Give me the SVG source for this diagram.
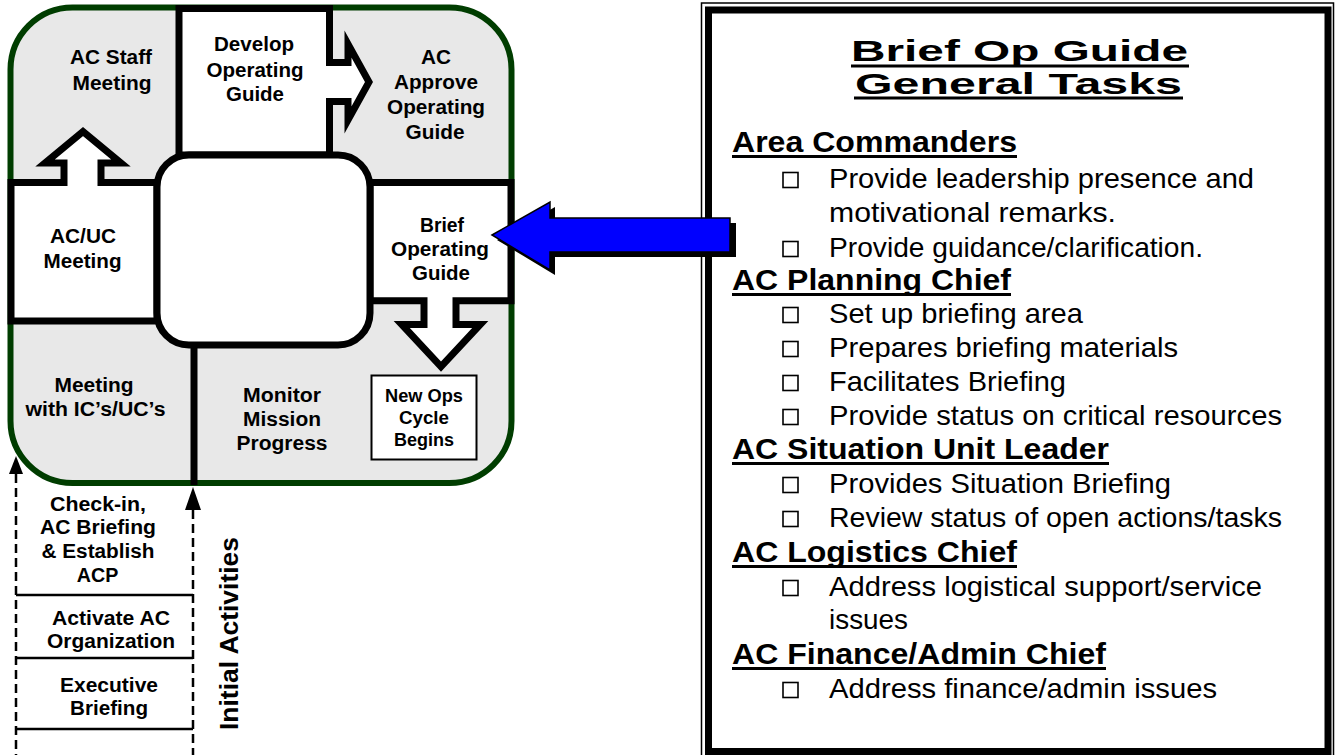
<svg xmlns="http://www.w3.org/2000/svg" width="1335" height="755" viewBox="0 0 1335 755">
<defs>
<style>
.blk{fill:#fff;stroke:#000;stroke-width:7;stroke-linejoin:miter;stroke-miterlimit:10}
.lt{font-family:"Liberation Sans",Arial,sans-serif;font-weight:bold;font-size:19.5px;fill:#000}
.sm{font-family:"Liberation Sans",Arial,sans-serif;font-weight:bold;font-size:17.5px;fill:#000}
.ttl{font-family:"Liberation Sans",Arial,sans-serif;font-weight:bold;font-size:30px;fill:#000}
.hd{font-family:"Liberation Sans",Arial,sans-serif;font-weight:bold;font-size:29px;fill:#000}
.it{font-family:"Liberation Sans",Arial,sans-serif;font-size:28px;fill:#000}
.cb{fill:none;stroke:#000;stroke-width:1.6}
.dash{fill:none;stroke:#000;stroke-width:2.5;stroke-dasharray:9 5}
.sep{fill:none;stroke:#000;stroke-width:2.5}
</style>
</defs>
<rect x="0" y="0" width="1335" height="755" fill="#fff"/>

<g id="cycle-frame">
<rect x="10.5" y="7.5" width="501" height="475.5" rx="62" ry="62" fill="#e8e8e8" stroke="#003d00" stroke-width="6"/>
</g>

<g id="ac-staff-meeting">
<text class="lt" x="70" y="64" textLength="82" lengthAdjust="spacingAndGlyphs">AC Staff</text>
<text class="lt" x="72.5" y="89.5" textLength="79" lengthAdjust="spacingAndGlyphs">Meeting</text>
</g>

<g id="develop-operating-guide">
<path class="blk" d="M179,8.5 H329.5 V62.5 H348 V44 L369,82 L348,120 V101.5 H329.5 V155 H179 Z"/>
<text class="lt" x="214" y="51" textLength="80" lengthAdjust="spacingAndGlyphs">Develop</text>
<text class="lt" x="206.5" y="77" textLength="97" lengthAdjust="spacingAndGlyphs">Operating</text>
<text class="lt" x="226" y="101" textLength="58" lengthAdjust="spacingAndGlyphs">Guide</text>
</g>

<g id="ac-approve-operating-guide">
<text class="lt" x="421" y="64" textLength="30" lengthAdjust="spacingAndGlyphs">AC</text>
<text class="lt" x="394" y="88.5" textLength="84" lengthAdjust="spacingAndGlyphs">Approve</text>
<text class="lt" x="387" y="114" textLength="98" lengthAdjust="spacingAndGlyphs">Operating</text>
<text class="lt" x="405.5" y="138.5" textLength="59" lengthAdjust="spacingAndGlyphs">Guide</text>
</g>

<g id="ac-uc-meeting">
<path class="blk" d="M11,182.5 H64 V163 H45 L83,131.5 L121,163 H101 V182.5 H157 V321 H11 Z"/>
<text class="lt" x="50" y="243" textLength="66" lengthAdjust="spacingAndGlyphs">AC/UC</text>
<text class="lt" x="43.5" y="268" textLength="78" lengthAdjust="spacingAndGlyphs">Meeting</text>
</g>

<g id="brief-operating-guide">
<path class="blk" d="M370,182.5 H511 V300.8 H456 V324.5 H480.3 L441,366.7 L401.7,324.5 H424 V300.8 H370 Z"/>
<text class="lt" x="420" y="232" textLength="44" lengthAdjust="spacingAndGlyphs">Brief</text>
<text class="lt" x="391" y="256" textLength="98" lengthAdjust="spacingAndGlyphs">Operating</text>
<text class="lt" x="412" y="280" textLength="58" lengthAdjust="spacingAndGlyphs">Guide</text>
</g>

<g id="center-hub">
<rect class="blk" x="157" y="155" width="213" height="190" rx="32" ry="32"/>
</g>

<g id="meeting-ic-uc">
<text class="lt" x="54.5" y="392" textLength="79" lengthAdjust="spacingAndGlyphs">Meeting</text>
<text class="lt" x="25.5" y="416" textLength="140" lengthAdjust="spacingAndGlyphs">with IC’s/UC’s</text>
</g>

<g id="monitor-mission-progress">
<text class="lt" x="243" y="401.5" textLength="78" lengthAdjust="spacingAndGlyphs">Monitor</text>
<text class="lt" x="243" y="426" textLength="78" lengthAdjust="spacingAndGlyphs">Mission</text>
<text class="lt" x="236.5" y="450" textLength="91" lengthAdjust="spacingAndGlyphs">Progress</text>
</g>

<g id="new-ops-cycle">
<rect x="371.5" y="375.5" width="105" height="84" fill="#fff" stroke="#000" stroke-width="2"/>
<text class="sm" x="385" y="402" textLength="78" lengthAdjust="spacingAndGlyphs">New Ops</text>
<text class="sm" x="399" y="424" textLength="50" lengthAdjust="spacingAndGlyphs">Cycle</text>
<text class="sm" x="394" y="446" textLength="60" lengthAdjust="spacingAndGlyphs">Begins</text>
</g>

<g id="check-in">
<text class="lt" x="50" y="511" textLength="96" lengthAdjust="spacingAndGlyphs">Check-in,</text>
<text class="lt" x="40" y="534" textLength="116" lengthAdjust="spacingAndGlyphs">AC Briefing</text>
<text class="lt" x="41.5" y="558" textLength="113" lengthAdjust="spacingAndGlyphs">&amp; Establish</text>
<text class="lt" x="76.75" y="582" textLength="41.5" lengthAdjust="spacingAndGlyphs">ACP</text>
</g>

<g id="activate-ac-organization">
<text class="lt" x="52" y="625" textLength="118" lengthAdjust="spacingAndGlyphs">Activate AC</text>
<text class="lt" x="47" y="648" textLength="128" lengthAdjust="spacingAndGlyphs">Organization</text>
</g>

<g id="executive-briefing">
<text class="lt" x="60" y="692" textLength="98" lengthAdjust="spacingAndGlyphs">Executive</text>
<text class="lt" x="70" y="715" textLength="78" lengthAdjust="spacingAndGlyphs">Briefing</text>
</g>

<g id="initial-activities-label">
<text class="lt" style="font-size:26px" transform="translate(238,730) rotate(-90)" x="0" y="0" textLength="193" lengthAdjust="spacingAndGlyphs">Initial Activities</text>
</g>

<g id="connectors">
<line x1="194" y1="345" x2="194" y2="485" stroke="#000" stroke-width="7"/>
<line class="dash" x1="193" y1="510" x2="193" y2="760"/>
<polygon points="193,487 185,510 201,510" fill="#000"/>
<line class="dash" x1="16" y1="474" x2="16" y2="760"/>
<polygon points="16,456 9,474 23,474" fill="#000"/>
<line class="sep" x1="16" y1="595" x2="193" y2="595"/>
<line class="sep" x1="16" y1="658" x2="193" y2="658"/>
<line class="sep" x1="16" y1="729" x2="193" y2="729"/>
</g>

<g id="tasks-panel">
<rect x="701.5" y="3" width="632" height="770" fill="none" stroke="#000" stroke-width="1.5"/>
<rect x="708.5" y="10" width="619.5" height="741.5" fill="#fff" stroke="#000" stroke-width="7"/>
<text class="ttl" x="851" y="61" textLength="337" lengthAdjust="spacingAndGlyphs">Brief Op Guide</text>
<rect x="851" y="64.5" width="338" height="3" fill="#000"/>
<text class="ttl" x="855" y="94" textLength="327" lengthAdjust="spacingAndGlyphs">General Tasks</text>
<rect x="854" y="96.5" width="329" height="3" fill="#000"/>

<text class="hd" x="732" y="152" textLength="285" lengthAdjust="spacingAndGlyphs">Area Commanders</text>
<rect x="732" y="155" width="285" height="3" fill="#000"/>
<rect class="cb" x="783" y="172.5" width="15" height="15"/>
<text class="it" x="829" y="188" textLength="425" lengthAdjust="spacingAndGlyphs">Provide leadership presence and</text>
<text class="it" x="829" y="222" textLength="287" lengthAdjust="spacingAndGlyphs">motivational remarks.</text>
<rect class="cb" x="783" y="241.5" width="15" height="15"/>
<text class="it" x="829" y="257" textLength="374" lengthAdjust="spacingAndGlyphs">Provide guidance/clarification.</text>

<text class="hd" x="732" y="290" textLength="279" lengthAdjust="spacingAndGlyphs">AC Planning Chief</text>
<rect x="732" y="293" width="279" height="3" fill="#000"/>
<rect class="cb" x="783" y="307.5" width="15" height="15"/>
<text class="it" x="829" y="323" textLength="254" lengthAdjust="spacingAndGlyphs">Set up briefing area</text>
<rect class="cb" x="783" y="341.5" width="15" height="15"/>
<text class="it" x="829" y="357" textLength="349" lengthAdjust="spacingAndGlyphs">Prepares briefing materials</text>
<rect class="cb" x="783" y="375.5" width="15" height="15"/>
<text class="it" x="829" y="391" textLength="237" lengthAdjust="spacingAndGlyphs">Facilitates Briefing</text>
<rect class="cb" x="783" y="409.5" width="15" height="15"/>
<text class="it" x="829" y="425" textLength="453" lengthAdjust="spacingAndGlyphs">Provide status on critical resources</text>

<text class="hd" x="732" y="459" textLength="377" lengthAdjust="spacingAndGlyphs">AC Situation Unit Leader</text>
<rect x="732" y="462" width="377" height="3" fill="#000"/>
<rect class="cb" x="783" y="477.5" width="15" height="15"/>
<text class="it" x="829" y="493" textLength="342" lengthAdjust="spacingAndGlyphs">Provides Situation Briefing</text>
<rect class="cb" x="783" y="511.5" width="15" height="15"/>
<text class="it" x="829" y="527" textLength="453" lengthAdjust="spacingAndGlyphs">Review status of open actions/tasks</text>

<text class="hd" x="732" y="562" textLength="285" lengthAdjust="spacingAndGlyphs">AC Logistics Chief</text>
<rect x="732" y="565" width="285" height="3" fill="#000"/>
<rect class="cb" x="783" y="580.5" width="15" height="15"/>
<text class="it" x="829" y="596" textLength="433" lengthAdjust="spacingAndGlyphs">Address logistical support/service</text>
<text class="it" x="829" y="629" textLength="79" lengthAdjust="spacingAndGlyphs">issues</text>

<text class="hd" x="732" y="664" textLength="374" lengthAdjust="spacingAndGlyphs">AC Finance/Admin Chief</text>
<rect x="732" y="667" width="374" height="3" fill="#000"/>
<rect class="cb" x="783" y="682.5" width="15" height="15"/>
<text class="it" x="829" y="698" textLength="388" lengthAdjust="spacingAndGlyphs">Address finance/admin issues</text>
</g>

<g id="brief-arrow">
<polygon points="497,240 555,207 555,223 736,223 736,257 555,257 555,275" fill="#000"/>
<polygon points="492,235 550,202 550,218 730,218 730,252 550,252 550,270" fill="#0000ff" stroke="#000" stroke-width="1.5" stroke-linejoin="miter"/>
</g>
</svg>
